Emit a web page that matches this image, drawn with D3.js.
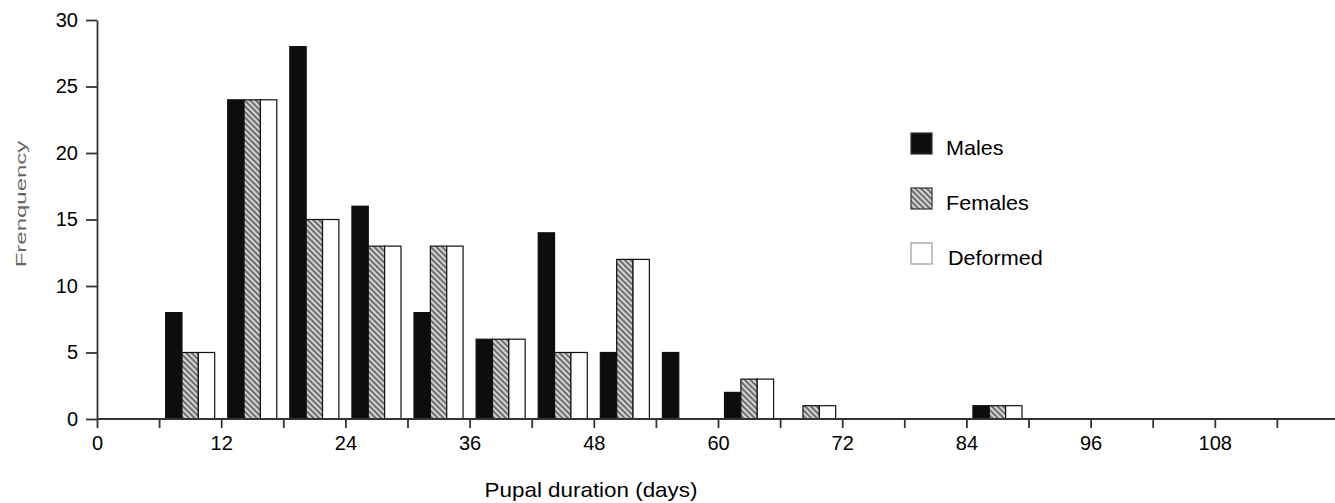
<html>
<head>
<script src="https://cdn.jsdelivr.net/npm/d3@7"></script>
<style>
  body { margin: 0; background: #fff; }
  text { font-family: "Liberation Sans", Arial, sans-serif; }
</style>
</head>
<body>
<svg width=1335 height=503></svg>
<script>

// bin centres (days) - bins are 6 days wide
var bins = [9, 15, 21, 27, 33, 39, 45, 51, 57, 63, 69, 75, 81, 87];
var males    = [8, 24, 28, 16, 8, 6, 14, 5, 5, 2, 0, 0, 0, 1];
var females  = [5, 24, 15, 13, 13, 6, 5, 12, 0, 3, 1, 0, 0, 1];
var deformed = [5, 24, 15, 13, 13, 6, 5, 12, 0, 3, 1, 0, 0, 1];
var seriesNames = ["Males", "Females", "Deformed"];
var xTicks = d3.range(0, 120, 6);
var yTicks = [0, 5, 10, 15, 20, 25, 30];

var svg = d3.select("svg");

var x = d3.scaleLinear().domain([0, 120]).range([97, 97 + 120 * 10.35]);
var y = d3.scaleLinear().domain([0, 30]).range([419, 20]);

// hatch for females
var defs = svg.append("defs");
var pat = defs.append("pattern").attr("id", "hatch")
  .attr("patternUnits", "userSpaceOnUse")
  .attr("width", 4).attr("height", 4)
  .attr("patternTransform", "rotate(45)");
pat.append("rect").attr("width", 4).attr("height", 4).attr("fill", "#d4d4d4");
pat.append("line").attr("x1", 0).attr("y1", 2).attr("x2", 4).attr("y2", 2)
  .attr("stroke", "#555").attr("stroke-width", 1.6);

var fills = ["#0d0d0d", "url(#hatch)", "#fff"];
var data = [males, females, deformed];

var bw = 1.58; // bar width in days
var bars = svg.append("g");
data.forEach(function(vals, s) {
  bins.forEach(function(c, i) {
    if (vals[i] <= 0) return;
    var x0 = x(c - 1.5 * bw + s * bw);
    bars.append("rect")
      .attr("x", x0)
      .attr("y", y(vals[i]))
      .attr("width", x(c - 1.5 * bw + (s + 1) * bw) - x0)
      .attr("height", y(0) - y(vals[i]))
      .attr("fill", fills[s])
      .attr("stroke", "#111").attr("stroke-width", 1.2);
  });
});

// x axis
var xAxis = d3.axisBottom(x).tickValues(xTicks)
  .tickFormat(function(d) { return d % 12 === 0 ? d : ""; })
  .tickSize(9).tickSizeOuter(0).tickPadding(8);
var gx = svg.append("g").attr("transform", "translate(0," + y(0) + ")").call(xAxis);
gx.select(".domain").attr("d", "M" + x(0) + ",0H1335");
gx.selectAll("line, .domain").attr("stroke", "#333").attr("stroke-width", 1.8);
gx.selectAll("text").attr("font-size", 20).attr("fill", "#000")
  .attr("font-family", "Liberation Sans, Arial, sans-serif");

// y axis
var yAxis = d3.axisLeft(y).tickValues(yTicks).tickSize(11).tickSizeOuter(0).tickPadding(8);
var gy = svg.append("g").attr("transform", "translate(" + x(0) + ",0)").call(yAxis);
gy.selectAll("line, .domain").attr("stroke", "#333").attr("stroke-width", 1.8);
gy.selectAll("text").attr("font-size", 20).attr("fill", "#000")
  .attr("font-family", "Liberation Sans, Arial, sans-serif");

// labels (the scan stretches text sideways)
svg.append("text").attr("transform", "translate(26,204) rotate(-90) scale(1.6,1)")
  .attr("text-anchor", "middle").attr("font-size", 15).attr("fill", "#666")
  .text("Frenquency");
svg.append("text").attr("transform", "translate(591,497) scale(1.12,1)")
  .attr("text-anchor", "middle").attr("font-size", 20).attr("fill", "#000")
  .text("Pupal duration (days)");

// legend
var legY = [133, 188, 243];
var legX = [946, 946, 948];
seriesNames.forEach(function(n, s) {
  svg.append("rect").attr("x", 911).attr("y", legY[s]).attr("width", 21).attr("height", 21)
    .attr("fill", fills[s]).attr("stroke", s === 2 ? "#999" : "#333").attr("stroke-width", 1.2);
  svg.append("text").attr("transform", "translate(" + legX[s] + "," + (legY[s] + 22) + ") scale(1.08,1)")
    .attr("font-size", 20).attr("fill", "#000").text(n);
});

</script>
</body>
</html>
